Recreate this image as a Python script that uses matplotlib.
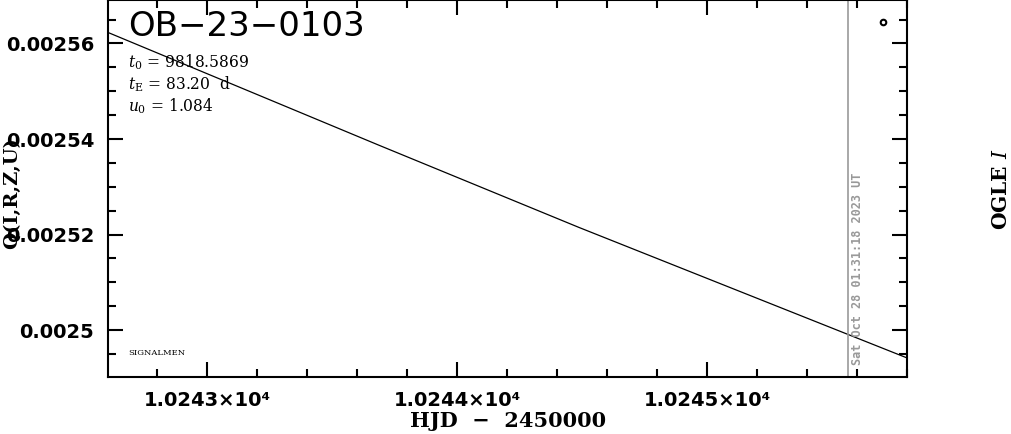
import matplotlib
matplotlib.use("Agg")
import matplotlib.pyplot as plt
from matplotlib.ticker import MultipleLocator, FuncFormatter

# model curve (HJD - 2450000, flux)
hjd_model = [10242.604, 10243.688, 10244.488, 10245.80]
flux_model = [0.0025623, 0.0025387, 0.0025215, 0.0024942]

# single OGLE I point
hjd_data = [10245.704]
flux_data = [0.0025644]

now_hjd = 10245.564
now_label = "Sat Oct 28 01:31:18 2023 UT"

event = "OB\u221223\u22120103"
params = [r"$t_0$ = 9818.5869", r"$t_{\rm E}$ = 83.20  d", r"$u_0$ = 1.084"]

plt.rcParams['mathtext.fontset'] = 'dejavuserif'

fig = plt.figure(figsize=(10.11, 4.34), dpi=100)
ax = fig.add_axes([0.1068, 0.1313, 0.7903, 0.8677])

ax.plot(hjd_model, flux_model, color='black', lw=0.9)
ax.plot(hjd_data, flux_data, 'o', mfc='none', mec='black', ms=4, mew=1.5)
ax.axvline(now_hjd, color='#999999', lw=1.2)

ax.set_xlim(10242.604, 10245.8)
ax.set_ylim(0.0024902, 0.0025690)

ax.xaxis.set_major_locator(MultipleLocator(1))
ax.xaxis.set_minor_locator(MultipleLocator(0.2))
ax.yaxis.set_major_locator(MultipleLocator(0.00002))
ax.yaxis.set_minor_locator(MultipleLocator(0.000005))

def xfmt(v, pos):
    return "%.4f\u00d710\u2074" % (v / 1e4)

def yfmt(v, pos):
    return "%g" % round(v, 6)

ax.xaxis.set_major_formatter(FuncFormatter(xfmt))
ax.yaxis.set_major_formatter(FuncFormatter(yfmt))

ax.tick_params(which='both', direction='in', top=True, right=True, width=1.5)
ax.tick_params(which='major', length=11, labelsize=14, pad=10)
ax.tick_params(which='minor', length=5.5)
for lab in ax.get_xticklabels() + ax.get_yticklabels():
    lab.set_fontweight('bold')
for s in ax.spines.values():
    s.set_linewidth(1.5)

ax.text(0.025, 0.975, event, transform=ax.transAxes, fontsize=24.5,
        ha='left', va='top', family='DejaVu Sans', fontweight='medium')
for i, p in enumerate(params):
    ax.text(0.025, 0.835 - i * 0.058, p, transform=ax.transAxes, fontsize=11.2,
            ha='left', va='center', family='DejaVu Serif')
ax.text(0.025, 0.063, "SIGNALMEN", transform=ax.transAxes, fontsize=6,
        ha='left', va='center', family='DejaVu Serif')

ax.text(now_hjd + 0.012, 0.032, now_label, transform=ax.get_xaxis_transform(),
        rotation=90, ha='left', va='bottom', fontsize=8.6, color='#999999',
        family='DejaVu Sans Mono', fontweight='bold')

fig.text(0.503, 0.016, "HJD  \u2212  2450000", ha='center', va='baseline',
         fontsize=15, fontweight='bold', family='DejaVu Serif')
fig.text(0.012, 0.555, "Q(I,R,Z,U)", rotation=90, ha='center', va='center',
         fontsize=14, fontweight='bold', family='DejaVu Serif')
fig.text(0.99, 0.565, r"OGLE $\mathit{I}$", rotation=90, ha='center', va='center',
         fontsize=14.5, fontweight='bold', family='DejaVu Serif')

fig.savefig("out.png", dpi=100)
